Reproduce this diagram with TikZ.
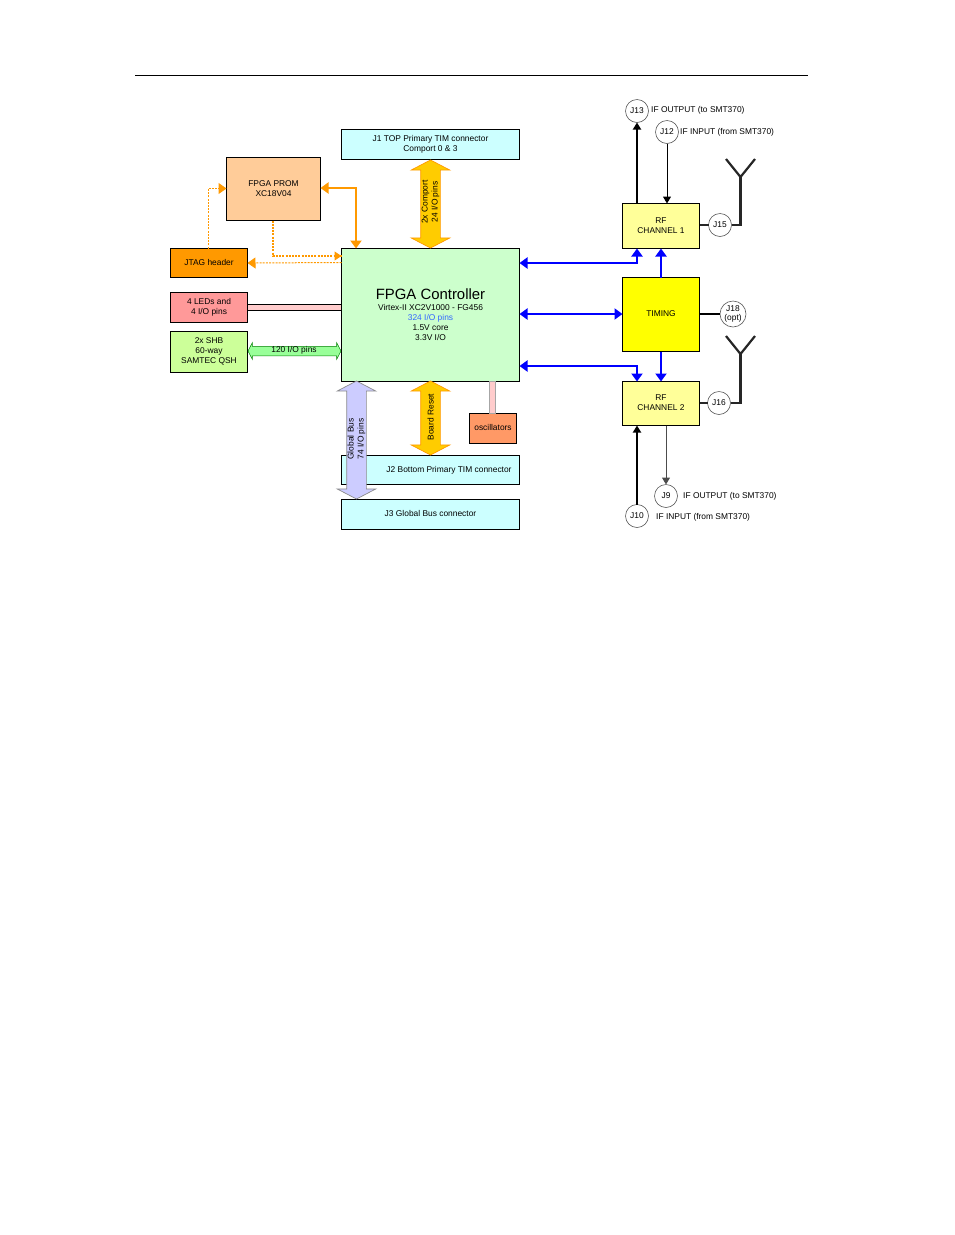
\documentclass[tikz,border=0pt]{standalone}
\usepackage{fontspec}
\setmainfont{Liberation Sans}
\usetikzlibrary{arrows.meta,positioning,shapes.arrows}
\definecolor{fpgagreen}{HTML}{CCFFCC}
\definecolor{connblue}{HTML}{CCFFFF}
\definecolor{promtan}{HTML}{FFCC99}
\definecolor{sigorange}{HTML}{FF9900}
\definecolor{ledred}{HTML}{FF9999}
\definecolor{shbgreen}{HTML}{CCFF99}
\definecolor{rfyellow}{HTML}{FFFF99}
\definecolor{timeyellow}{HTML}{FFFF00}
\definecolor{oscorange}{HTML}{FF9966}
\definecolor{buspink}{HTML}{FFCCCC}
\definecolor{busgold}{HTML}{FFCC00}
\definecolor{buslilac}{HTML}{CCCCFF}
\definecolor{busgreen}{HTML}{99FF99}
\begin{document}
\begin{tikzpicture}[x=1pt, y=-1pt, >={Triangle[length=8pt,width=11pt]},
    font=\fontsize{8.4}{10}\selectfont,
    block/.style={draw, line width=1pt, anchor=north west, align=center, inner sep=0pt, outer sep=0pt},
    raised/.style={text depth=2pt},
    jack/.style={draw=black!65, fill=white, circle, line width=0.6pt, inner sep=0pt, outer sep=0pt, align=center, minimum size=23pt},
    iflabel/.style={anchor=west, inner sep=0pt},
    buslabel/.style={rotate=90, align=center, inner sep=0pt},
    bigbus/.style={double arrow, double arrow tip angle=125, double arrow head extend=9.5pt, minimum width=38pt, inner xsep=0pt, inner ysep=9.5pt, outer sep=0pt, rotate=90, line width=0.7pt},
    blueline/.style={<->, blue, line width=2pt},
    blueone/.style={->, blue, line width=2pt},
    orangedash/.style={sigorange, line width=1pt, dash pattern=on 2pt off 1.2pt},
    antenna/.style={line width=2.2pt, black!85}]
    \useasboundingbox (0,0) rectangle (954,1235);
    \draw[line width=0.9pt] (135,75) -- (808,75);

    \node[block, fill=connblue, minimum width=178pt, minimum height=30pt] (J1) at (341.5,129) {J1 TOP Primary TIM connector\\Comport 0 \& 3};
    \node[block, fill=promtan, minimum width=94pt, minimum height=63pt] (PROM) at (226.5,157.5) {FPGA PROM\\XC18V04};
    \node[block, raised, fill=sigorange, minimum width=77pt, minimum height=29pt] (JTAG) at (170.5,248.5) {JTAG header};
    \node[block, fill=ledred, minimum width=77pt, minimum height=30pt] (LEDS) at (170.5,292.5) {4 LEDs and\\4 I/O pins};
    \node[block, raised, fill=shbgreen, minimum width=77pt, minimum height=41pt] (SHB) at (170.5,331.5) {2x SHB\\60-way\\SAMTEC QSH};
    \node[block, fill=fpgagreen, minimum width=178pt, minimum height=133pt] (FPGA) at (341.5,248.5) {{\fontsize{14.9}{15}\selectfont FPGA Controller}\\[1pt]Virtex-II XC2V1000 - FG456\\\textcolor[HTML]{3366FF}{324 I/O pins}\\1.5V core\\3.3V I/O};
    \node[block, fill=connblue, minimum width=178pt, minimum height=29pt] (J2) at (341.5,455.5) {\hspace*{37pt}J2 Bottom Primary TIM connector};
    \node[block, raised, fill=connblue, minimum width=178pt, minimum height=30pt] (J3) at (341.5,499.5) {J3 Global Bus connector};
    \node[block, raised, fill=oscorange, minimum width=47pt, minimum height=30pt] (OSC) at (469.5,413.5) {oscillators};
    \node[block, fill=rfyellow, minimum width=77pt, minimum height=45pt] (RF1) at (622.5,203.5) {RF\\CHANNEL 1};
    \node[block, raised, fill=timeyellow, minimum width=77pt, minimum height=74pt] (TIMING) at (622.5,277.5) {TIMING};
    \node[block, raised, fill=rfyellow, minimum width=77pt, minimum height=44pt] (RF2) at (622.5,381.5) {RF\\CHANNEL 2};

    \node[jack] (J13) at (637,111) {J13};
    \node[jack] (J12) at (667,132) {J12};
    \node[jack] (J15) at (720,225) {J15};
    \node[jack, minimum size=26pt] (J18) at (733,314) {J18\\[-1.5pt](opt)};
    \node[jack] (J16) at (719,403) {J16};
    \node[jack] (J9) at (666,496) {J9};
    \node[jack] (J10) at (637,516) {J10};
    \node[iflabel] (L13) at (651,110) {IF OUTPUT (to SMT370)};
    \node[iflabel] (L12) at (680,132) {IF INPUT (from SMT370)};
    \node[iflabel] (L9) at (683,496) {IF OUTPUT (to SMT370)};
    \node[iflabel] (L10) at (656,517) {IF INPUT (from SMT370)};

    \draw[fill=buspink, line width=0.9pt] ([yshift=3pt]LEDS.east) rectangle ([yshift=-3pt]LEDS.east -| FPGA.west);
    \draw[fill=buspink, draw=black!35, line width=0.6pt] ([xshift=59pt]FPGA.south) rectangle ([xshift=65pt]FPGA.south |- OSC.north);

    \node[bigbus, draw=sigorange, fill=busgold, minimum height=88pt] (COMPORT) at (430.5,204) {};
    \node[buslabel] (COMPORTL) at (430.5,202) {2x Comport\\24 I/O pins};
    \node[bigbus, draw=sigorange, fill=busgold, minimum height=74pt] (RESET) at (430.5,418) {};
    \node[buslabel] (RESETL) at (430.5,417) {Board Reset};
    \node[bigbus, draw=black!45, fill=buslilac, minimum height=118pt] (GLOBAL) at (356.5,440) {};
    \node[buslabel] (GLOBALL) at (356.5,439) {Global Bus\\74 I/O pins};
    \node[double arrow, double arrow tip angle=125, double arrow head extend=3.5pt, minimum width=16pt, minimum height=93pt, inner xsep=0pt, inner ysep=4.5pt, outer sep=0pt, draw=black!50!green, fill=busgreen, line width=0.5pt] (SHBBUS) at (294.5,351) {};
    \node[inner sep=0pt] (SHBL) at (294,350.5) {120 I/O pins};

    \draw[<->, sigorange, line width=2pt] ([yshift=-30.5pt]PROM.north east) -| ([xshift=14.5pt]FPGA.north west);
    \coordinate (PROMIN) at (208.5,188.5);
    \draw[orangedash] ([xshift=-0.5pt]JTAG.north) |- (PROMIN);
    \draw[->, orangedash] (PROMIN) -- ([yshift=-31pt]PROM.north west);
    \draw[orangedash, line width=1.5pt] ([xshift=-0.5pt]PROM.south) |- ([yshift=-7.5pt]FPGA.north west);
    \draw[-{Triangle[length=7pt,width=9pt]}, sigorange, line width=1pt] ([xshift=-7pt,yshift=-7.5pt]FPGA.north west) -- ([yshift=-7.5pt]FPGA.north west);
    \draw[->, orangedash] ([yshift=-14pt]FPGA.north west) -- (JTAG.east);

    \draw[blueline] ([yshift=-14.5pt]FPGA.north east) -| ([xshift=-24pt]RF1.south);
    \draw[blueline] ([yshift=0.5pt]TIMING.west -| FPGA.east) -- ([yshift=0.5pt]TIMING.west);
    \draw[blueline] ([yshift=15.5pt]FPGA.south east) -| ([xshift=-24pt]RF2.north);
    \draw[blueone] (TIMING.north) -- (RF1.south);
    \draw[blueone] (TIMING.south) -- (RF2.north);

    \draw[-{Triangle[length=7pt,width=8pt]}, line width=2pt] ([xshift=-24pt]RF1.north) -- (J13.south);
    \draw[-{Triangle[length=7pt,width=8pt]}, line width=1pt] (J12.south) -- (J12.south |- RF1.north);
    \draw[line width=2pt, black!85] ([yshift=1pt]RF1.east) -- (J15.west);
    \draw[line width=2pt] ([yshift=0.5pt]TIMING.east) -- (J18.west);
    \draw[line width=2pt, black!85] ([yshift=0.5pt]RF2.east) -- (J16.west);
    \draw[-{Triangle[length=7pt,width=8pt]}, line width=1pt, black!70] (J9.north |- RF2.south) -- (J9.north);
    \draw[-{Triangle[length=7pt,width=8pt]}, line width=2pt] (J10.north) -- ([xshift=-24pt]RF2.south);

    \coordinate (ANT1) at (740.5,177);
    \coordinate (ANT1L) at (726,159);
    \coordinate (ANT1R) at (755,159);
    \draw[antenna] (J15.east) -| (ANT1);
    \draw[antenna] (ANT1L) -- (ANT1) -- (ANT1R);
    \coordinate (ANT2) at (740.5,354);
    \coordinate (ANT2L) at (726,336);
    \coordinate (ANT2R) at (755,336);
    \draw[antenna] (J16.east) -| (ANT2);
    \draw[antenna] (ANT2L) -- (ANT2) -- (ANT2R);
\end{tikzpicture}
\end{document}
